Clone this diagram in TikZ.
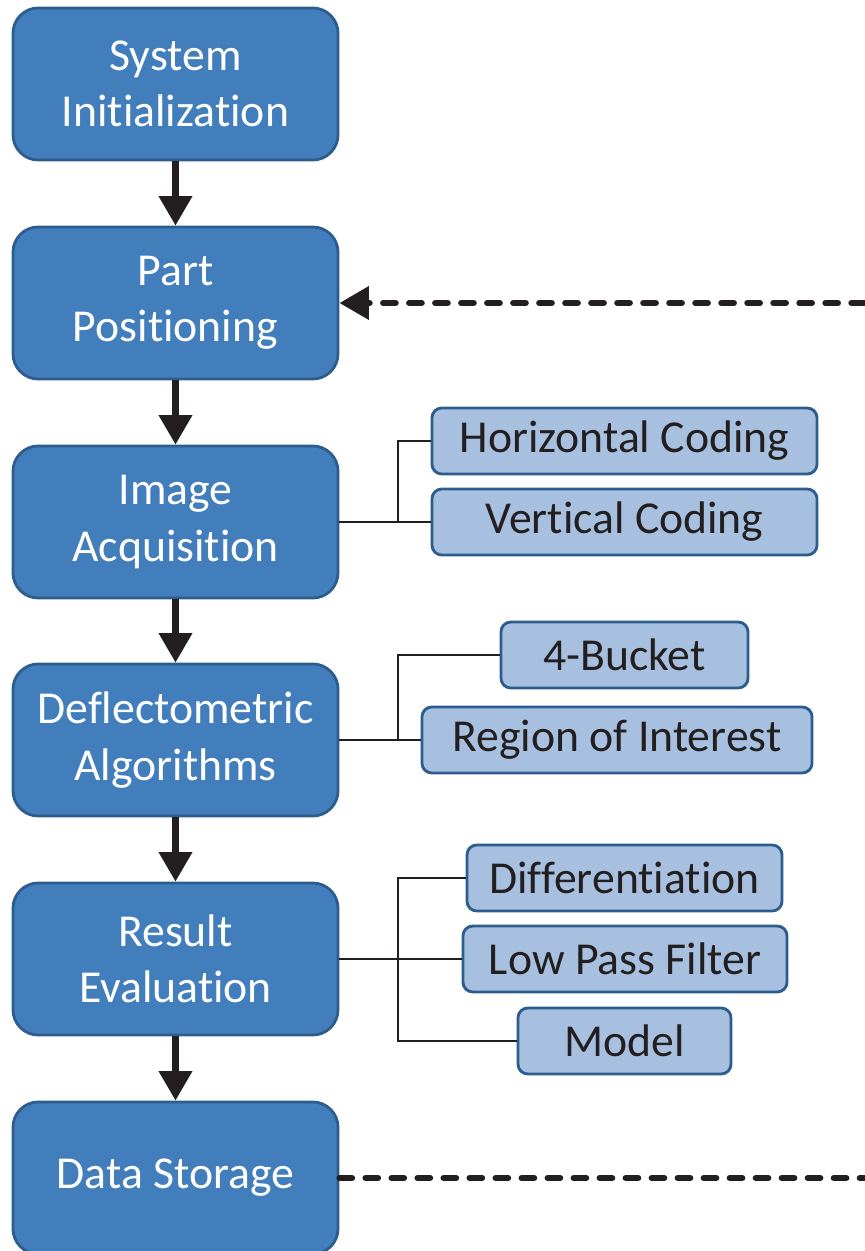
\documentclass[tikz,border=0pt]{standalone}
\usepackage{fontspec}
\setmainfont{Carlito}[Ligatures=NoCommon]
\usetikzlibrary{arrows.meta}
\definecolor{cmain}{HTML}{427EBC}
\definecolor{cedge}{HTML}{2D5D8E}
\definecolor{csub}{HTML}{A7C0DF}
\definecolor{cink}{HTML}{231F20}
\tikzset{
  every picture/.style={font=\fontsize{32.5}{40}\selectfont},
  mainbox/.style={draw=cedge, fill=cmain, line width=2pt, rounded corners=18pt, text=white, align=center, minimum width=8.125cm, minimum height=3.8cm},
  subbox/.style={draw=cedge, fill=csub, line width=2pt, rounded corners=7pt, text=cink, align=center, minimum width=#1, minimum height=1.65cm, inner sep=0pt},
  flow/.style={-{Triangle[length=21pt, width=23pt]}, draw=cink, line width=4.3pt},
  back/.style={flow, dash pattern=on 9pt off 9.5pt, line cap=round},
  link/.style={draw=cink, line width=2pt},
}
\begin{document}
\begin{tikzpicture}[x=0.025cm, y=-0.025cm]
  \useasboundingbox (0,0) rectangle (864,1251);
  % main chain
  \node[mainbox] (si) at (175.5,84) {System\\Initialization};
  \node[mainbox] (pp) at (175.5,303) {Part\\Positioning};
  \node[mainbox] (ia) at (175.5,522) {Image\\Acquisition};
  \node[mainbox] (da) at (175.5,740) {Deflectometric\\Algorithms};
  \node[mainbox] (re) at (175.5,959) {Result\\Evaluation};
  \node[mainbox] (ds) at (175.5,1178) {Data Storage};
  \draw[flow] (si) -- (pp);
  \draw[flow] (pp) -- (ia);
  \draw[flow] (ia) -- (da);
  \draw[flow] (da) -- (re);
  \draw[flow] (re) -- (ds);
  % loop back
  \coordinate (ret) at (864,303);
  \coordinate (out) at (864,1178);
  \draw[back] (ret) -- (pp.east);
  \draw[back, -] (ds.east) -- (out);
  % details
  \coordinate (jx) at (398,0);
  \node[subbox=9.625cm] (hc) at (624.5,441) {Horizontal Coding};
  \node[subbox=9.625cm] (vc) at (624.5,522) {Vertical Coding};
  \node[subbox=6.175cm] (fb) at (624.5,655) {4-Bucket};
  \node[subbox=9.75cm] (roi) at (617,740) {Region of Interest};
  \node[subbox=7.875cm] (dif) at (624.5,878) {Differentiation};
  \node[subbox=8.1cm] (lpf) at (625,959) {Low Pass Filter};
  \node[subbox=5.325cm] (mod) at (624.5,1041) {Model};
  \draw[link] (ia.east) -- (vc.west);
  \draw[link] (hc.west) -| (jx |- vc.west);
  \draw[link] (da.east) -- (roi.west);
  \draw[link] (fb.west) -| (jx |- roi.west);
  \draw[link] (re.east) -- (lpf.west);
  \draw[link] (dif.west) -| (jx |- mod.west) -- (mod.west);
\end{tikzpicture}
\end{document}
